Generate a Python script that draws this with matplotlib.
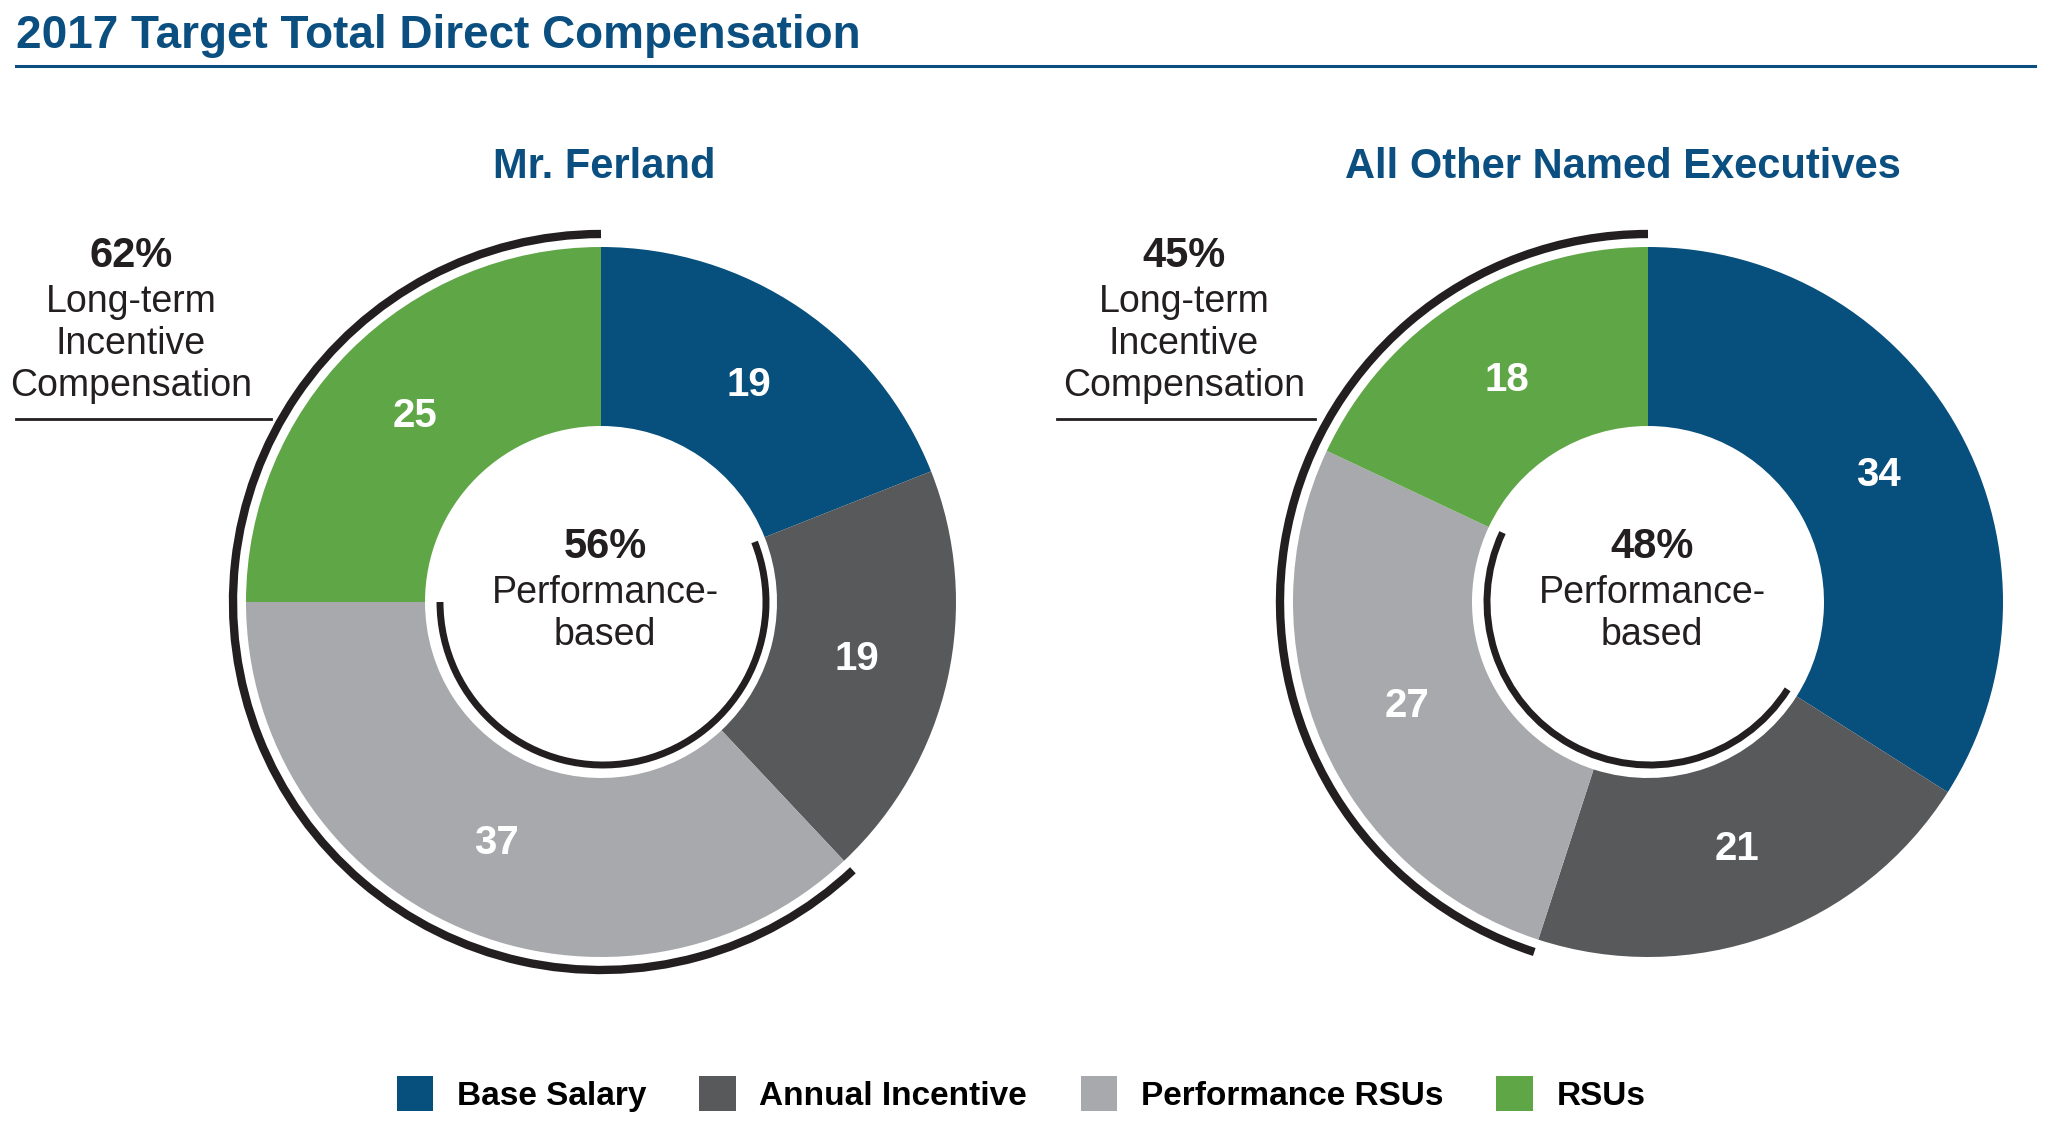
import matplotlib.pyplot as plt
from matplotlib.patches import Arc, Patch

plt.rcParams['font.family'] = ['Liberation Sans', 'DejaVu Sans']

# Data
categories = ["Base Salary", "Annual Incentive", "Performance RSUs", "RSUs"]
ferland = [19, 19, 37, 25]
others = [34, 21, 27, 18]
panel_titles = ["Mr. Ferland", "All Other Named Executives"]
long_term_pct = [62, 45]
perf_based_pct = [56, 48]

colors = ["#074f7c", "#58595b", "#a7a9ac", "#5fa746"]
blue = "#0b4f80"
dark = "#231f20"

W, H = 2051, 1128
fig = plt.figure(figsize=(W / 100, H / 100), dpi=100)
ax = fig.add_axes([0, 0, 1, 1])


def fy(y):
    # pixel row (from top) to axes y (from bottom)
    return H - y


# Title and rule
ax.text(16, fy(48), "2017 Target Total Direct Compensation", fontsize=33,
        fontweight="bold", color=blue, ha="left", va="baseline")
ax.plot([16, 2035], [fy(66), fy(66)], color=blue, lw=2.2)

centers = [(601, 602), (1648, 602)]
title_x = [604, 1623]
ann_x = [131, 1184]
lead = [(16, 271), (1057, 1315)]
R = 355
hole = 176

for i, vals in enumerate([ferland, others]):
    cx, cy = centers[i]
    cy = fy(cy)
    ax.pie(vals, colors=colors, radius=R, center=(cx, cy), startangle=90,
           counterclock=False, autopct=lambda p: f"{p:.0f}",
           pctdistance=0.74, frame=True,
           wedgeprops=dict(width=R - hole, linewidth=0),
           textprops=dict(color="white", fontsize=29, fontweight="bold"))

    # angles (clockwise from top) from the data
    tot = sum(vals)
    cum = [sum(vals[:k]) / tot * 360 for k in range(len(vals) + 1)]

    # long-term incentive arc: Performance RSUs + RSUs
    a, b = cum[2], cum[4]
    ax.add_patch(Arc((cx, cy), 2 * 368, 2 * 368, theta1=90 - b, theta2=90 - a,
                     color=dark, lw=6))
    # performance-based arc: Annual Incentive + Performance RSUs
    a, b = cum[1], cum[3]
    ax.add_patch(Arc((cx + 2, cy), 2 * 163, 2 * 163, theta1=90 - b, theta2=90 - a,
                     color=dark, lw=5))

    ax.text(title_x[i], fy(167), panel_titles[i], fontsize=30, fontweight="bold",
            color=blue, ha="center", va="center")

    # center text
    ax.text(cx + 4, fy(547), f"{perf_based_pct[i]}%", fontsize=30,
            fontweight="bold", color=dark, ha="center", va="center")
    ax.text(cx + 4, fy(593), "Performance-", fontsize=27, color=dark,
            ha="center", va="center")
    ax.text(cx + 4, fy(635), "based", fontsize=27, color=dark,
            ha="center", va="center")

    # long-term annotation
    ax.text(ann_x[i], fy(256), f"{long_term_pct[i]}%", fontsize=30,
            fontweight="bold", color=dark, ha="center", va="center")
    for j, line in enumerate(["Long-term", "Incentive", "Compensation"]):
        ax.text(ann_x[i], fy(302 + 42 * j), line, fontsize=27, color=dark,
                ha="center", va="center")
    ax.plot(list(lead[i]), [fy(419), fy(419)], color=dark, lw=2)

ax.set_xlim(0, W)
ax.set_ylim(0, H)
ax.set_aspect("equal")
ax.axis("off")

handles = [Patch(facecolor=c, edgecolor="none") for c in colors]
fig.legend(handles, categories, loc="center", bbox_to_anchor=(1021 / W, 1 - 1094 / H),
           ncol=4, frameon=False, handlelength=1.1, handleheight=1.2,
           handletextpad=0.7, columnspacing=1.6,
           prop=dict(size=24, weight="bold"))

fig.savefig("out.png", dpi=100)
